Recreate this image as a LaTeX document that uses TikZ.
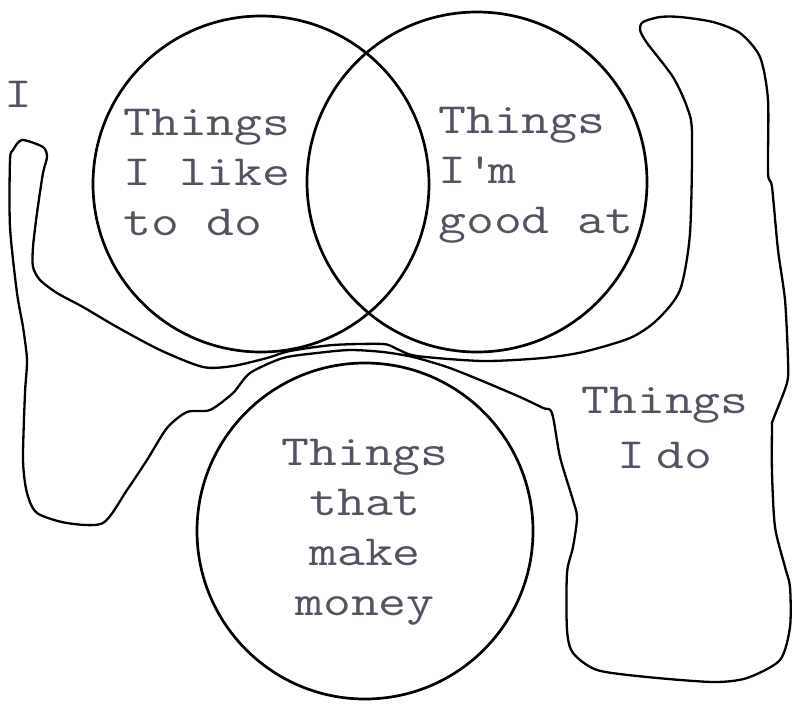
\documentclass[tikz,border=0pt]{standalone}
\usepackage{fontspec}
\newfontfamily\cour[FakeStretch=1.26]{Latin Modern Mono}
\definecolor{txt}{RGB}{82,82,98}
\begin{document}
\begin{tikzpicture}[x=1pt,y=-1pt,
  ring/.style={draw=black,line width=2.7pt},
  blob/.style={draw=black,line width=2.3pt,line join=round},
  lbl/.style={text=txt,inner sep=0pt,font=\cour\fontsize{43}{50}\selectfont},
]
\useasboundingbox[fill=white] (0,0) rectangle (794,710);
% freehand region "Things I do"
\draw[blob] plot[smooth cycle,tension=0.45] coordinates {
(13,150) (22,140) (43,147) (47,157) (43,173) (37,213) (33,247) (33,267)
(40,280) (57,293) (83,307) (117,327) (160,350) (203,367) (233,366) (267,358)
(290,351) (333,345) (383,344) (397,349) (417,356) (483,361) (543,358) (583,352)
(630,338) (657,320) (680,290) (690,233) (692,133) (687,107) (673,77) (647,43)
(640,30) (643,22) (660,17) (680,17) (713,22) (740,33) (760,57) (768,100)
(768,173) (772,187) (778,250) (785,300) (788,360) (787,383) (773,420) (772,427)
(772,473) (775,527) (785,567) (790,587) (790,627) (780,660) (747,678) (713,682)
(647,677) (597,670) (573,653) (567,630) (567,573) (573,547) (577,517) (572,497)
(560,457) (552,413) (543,408) (520,397) (480,380) (447,367) (413,357) (383,352)
(350,350) (317,353) (283,358) (250,373) (233,393) (210,410) (187,412) (167,428)
(147,460) (127,490) (103,523) (67,523) (37,513) (27,493) (23,460) (25,393)
(27,360) (23,327) (17,293) (10,227) (10,160)};
% circles
\node[ring,circle,minimum size=336pt,inner sep=0pt] (like) at (261,184) {};
\node[ring,circle,minimum size=340pt,inner sep=0pt] (good) at (477,182) {};
\node[ring,circle,minimum size=336pt,inner sep=0pt] (money) at (365,531) {};
% labels
\node[lbl,anchor=base west] (tlike) at (123,135) {\begin{tabular}[t]{@{}l@{}}Things\\I like\\to do\end{tabular}};
\node[lbl,anchor=base west] (tgood) at (438,133) {\begin{tabular}[t]{@{}l@{}}Things\\I\textquotesingle m\\good at\end{tabular}};
\node[lbl,anchor=base] (tmoney) at (365,465) {\begin{tabular}[t]{@{}c@{}}Things\\that\\make\\money\end{tabular}};
\node[lbl,anchor=base] (tdo) at (665,413) {\begin{tabular}[t]{@{}c@{}}Things\\[5pt]I\hspace{0.25em}do\end{tabular}};
\node[lbl,anchor=base west] (ti) at (4,107) {I};
\end{tikzpicture}
\end{document}
